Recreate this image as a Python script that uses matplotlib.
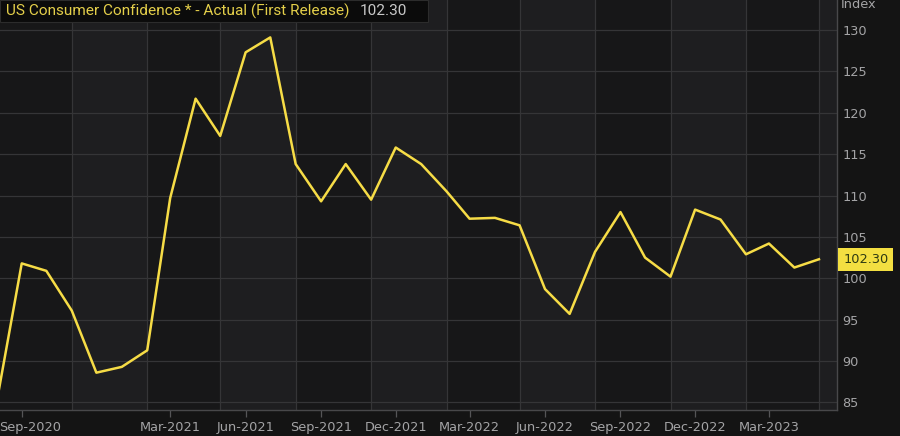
import matplotlib
matplotlib.use("Agg")
import matplotlib.pyplot as plt
import matplotlib.transforms as mtransforms
from matplotlib.patches import Rectangle
import pandas as pd

# monthly first-release readings, Aug 2020 .. May 2023
months = pd.date_range("2020-08-01", "2023-05-01", freq="MS")
confidence = [84.8, 101.8, 100.9, 96.1, 88.6, 89.3, 91.3, 109.7, 121.7, 117.2,
              127.3, 129.1, 113.8, 109.3, 113.8, 109.5, 115.8, 113.8, 110.5, 107.2,
              107.3, 106.4, 98.7, 95.7, 103.2, 108.0, 102.5, 100.2, 108.3, 107.1,
              102.9, 104.2, 101.3, 102.3]
last_value = "102.30"

tick_dates = pd.to_datetime(["2020-09-01", "2021-03-01", "2021-06-01", "2021-09-01",
                             "2021-12-01", "2022-03-01", "2022-06-01", "2022-09-01",
                             "2022-12-01", "2023-03-01"])
tick_labels = ["Sep-2020", "Mar-2021", "Jun-2021", "Sep-2021", "Dec-2021",
               "Mar-2022", "Jun-2022", "Sep-2022", "Dec-2022", "Mar-2023"]
grid_dates = pd.date_range("2020-11-01", "2023-05-01", freq="3MS")
y_ticks = [85, 90, 95, 100, 105, 110, 115, 120, 125, 130]

BG = "#141414"
PANEL = "#171718"
BAND = "#1e1e20"
GRID = "#353537"
LINE = "#f6dc46"
TXT = "#a4a4a6"

fig = plt.figure(figsize=(9, 4.36), dpi=100, facecolor=BG)
ax = fig.add_axes([0, 1 - 410 / 436, 837 / 900, 410 / 436])
ax.set_facecolor(PANEL)

# alternating quarter bands
edges = list(grid_dates) + [pd.Timestamp("2023-08-01")]
for i in range(0, len(edges) - 1, 2):
    ax.axvspan(edges[i], edges[i + 1], color=BAND, lw=0, zorder=0)
for d in grid_dates:
    ax.axvline(d, color=GRID, lw=0.9, zorder=1)
for v in y_ticks:
    ax.axhline(v, color=GRID, lw=0.9, zorder=1)

ax.plot(months, confidence, color=LINE, lw=1.8, zorder=3)

ax.set_xlim(pd.Timestamp("2020-08-05 12:00"), pd.Timestamp("2023-05-23"))
ax.set_ylim(84.09, 133.62)

ax.set_xticks(tick_dates)
ax.set_xticklabels(tick_labels)
ax.set_yticks(y_ticks)
ax.yaxis.tick_right()
ax.tick_params(axis="y", length=0, pad=4, labelsize=9.3, labelcolor=TXT)
ax.tick_params(axis="x", length=5, width=0.9, color="#555557", pad=3,
               labelsize=9.3, labelcolor=TXT)
for lab in ax.get_yticklabels():
    lab.set_horizontalalignment("left")

# first label is pushed right, as in the source
shift = mtransforms.ScaledTranslation(8 / 100, 0, fig.dpi_scale_trans)
first = ax.get_xticklabels()[0]
first.set_transform(first.get_transform() + shift)

for side in ["top", "left"]:
    ax.spines[side].set_visible(False)
for side in ["bottom", "right"]:
    ax.spines[side].set_color("#48484a")
    ax.spines[side].set_linewidth(1.0)

fig.text(841 / 900, 1 - 5 / 436, "Index", color=TXT, fontsize=9.3,
         ha="left", va="center")

# legend box at the top left
fig.patches.append(Rectangle((0, 1 - 22 / 436), 428 / 900, 22 / 436,
                             transform=fig.transFigure, facecolor="#0b0b0b",
                             edgecolor="#2c2c2c", lw=0.8, zorder=5))
fig.text(6 / 900, 1 - 11 / 436, "US Consumer Confidence * - Actual (First Release)",
         color="#e4cf4a", fontsize=11.1, family="Roboto", ha="left", va="center",
         zorder=6)
fig.text(360 / 900, 1 - 11 / 436, last_value, color="#c8c8c8", fontsize=11.1,
         family="Roboto", ha="left", va="center", zorder=6)

# last-value tag on the axis
ax.annotate(last_value, xy=(1.0, confidence[-1]),
            xycoords=("axes fraction", "data"), xytext=(4.4, 0),
            textcoords="offset points", ha="left", va="center",
            fontsize=9.3, color="#2d3a12",
            bbox=dict(boxstyle="square,pad=0.38", facecolor="#f3df41",
                      edgecolor="none"), annotation_clip=False)

fig.savefig("out.png", dpi=100, facecolor=BG)
